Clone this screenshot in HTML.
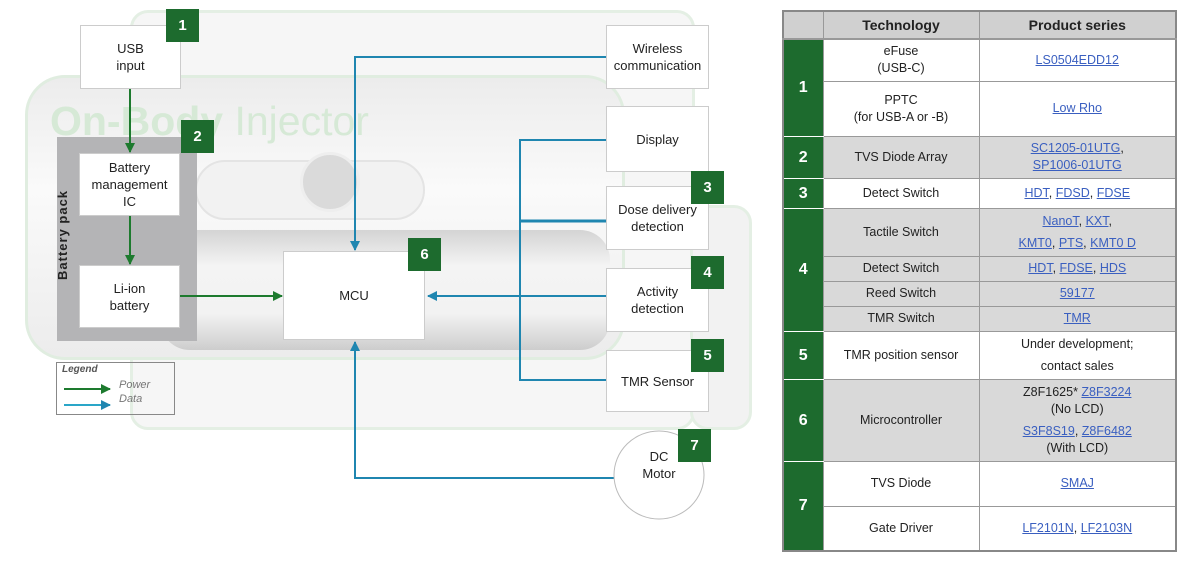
<!DOCTYPE html>
<html><head><meta charset="utf-8"><style>
*{margin:0;padding:0;box-sizing:border-box}
body{width:1200px;height:563px;background:#fff;position:relative;overflow:hidden;font-family:"Liberation Sans",sans-serif;color:#222}
.a{position:absolute}
.box{position:absolute;background:#fff;border:1px solid #ccc;display:flex;align-items:center;justify-content:center;text-align:center;font-size:13px;line-height:17px}
.bd{position:absolute;background:#1d6b2e;color:#fff;font-weight:bold;font-size:15px;display:flex;align-items:center;justify-content:center;width:33px;height:33px}
table{position:absolute;left:782px;top:10px;width:393px;border-collapse:collapse;border:2px solid #888;font-size:12.5px;table-layout:fixed}
td{border:1px solid #999;text-align:center;padding:0 3px;line-height:17px}
td.n{background:#1d6b2e;color:#fff;font-weight:bold;font-size:16px;border-color:#fff #999}
.g td{background:#d9d9d9}
.g td.n{background:#1d6b2e}
a{color:#3a5fc0;text-decoration:underline}
th{background:#d0d0d0;font-size:14px;height:28px;border:1px solid #999;border-bottom:2px solid #999}
</style></head><body>
<div class="a" style="left:130px;top:10px;width:565px;height:420px;border:3px solid #e4efe4;border-radius:18px;background:#f6f6f6"></div>
<div class="a" style="left:25px;top:75px;width:600px;height:285px;border:3px solid #e0ede0;border-radius:40px;background:linear-gradient(#ececec,#fafafa 40%,#ececec)"></div>
<div class="a" style="left:195px;top:160px;width:230px;height:60px;border:2px solid #e4e4e4;border-radius:30px;background:#f2f2f2"></div>
<div class="a" style="left:300px;top:152px;width:60px;height:60px;border-radius:50%;background:#dadada;border:3px solid #eee"></div>
<div class="a" style="left:160px;top:230px;width:450px;height:120px;border-radius:30px;background:linear-gradient(#d4d4d4,#f4f4f4 30%,#f2f2f2 70%,#cdcdcd)"></div>
<div class="a" style="left:690px;top:205px;width:62px;height:225px;border:3px solid #e4efe4;border-radius:18px;background:#f2f2f2"></div>
<div class="a" style="left:50px;top:98px;font-size:41px;color:#d6e9d6;white-space:nowrap"><b>On-Body</b> Injector</div>

<div class="a" style="left:57px;top:137px;width:140px;height:204px;background:#b4b4b6"></div>
<div class="a" style="left:55px;top:280px;transform:rotate(-90deg);transform-origin:0 0;font-size:13px;font-weight:bold;letter-spacing:1px;color:#222;white-space:nowrap">Battery pack</div>

<svg class="a" style="left:0;top:0" width="760" height="563">
<defs>
<marker id="gA" markerWidth="10" markerHeight="10" refX="9" refY="5" orient="auto" markerUnits="userSpaceOnUse"><path d="M0,0L10,5L0,10z" fill="#1d7a2e"/></marker>
<marker id="bA" markerWidth="10" markerHeight="10" refX="9" refY="5" orient="auto" markerUnits="userSpaceOnUse"><path d="M0,0L10,5L0,10z" fill="#1f86b0"/></marker>
</defs>
<g stroke="#1d7a2e" stroke-width="2" fill="none">
<line x1="130" y1="89" x2="130" y2="152" marker-end="url(#gA)"/>
<line x1="130" y1="216" x2="130" y2="264" marker-end="url(#gA)"/>
<line x1="180" y1="296" x2="282" y2="296" marker-end="url(#gA)"/>
<line x1="64" y1="389" x2="110" y2="389" marker-end="url(#gA)"/>
</g>
<g stroke="#1f86b0" stroke-width="2" fill="none">
<polyline points="608,57 355,57 355,250" marker-end="url(#bA)"/>
<polyline points="608,140 520,140 520,380 608,380"/>
<line x1="520" y1="221" x2="608" y2="221" stroke-width="3"/>
<line x1="608" y1="296" x2="428" y2="296" marker-end="url(#bA)"/>
<polyline points="614,478 355,478 355,342" marker-end="url(#bA)"/>
<line x1="64" y1="405" x2="110" y2="405" stroke="#2aa6c8" marker-end="url(#bA)"/>
</g>
<ellipse cx="659" cy="475" rx="45" ry="44" fill="#fff" stroke="#bbb"/>
</svg>

<div class="box" style="left:80px;top:25px;width:101px;height:64px">USB<br>input</div>
<div class="box" style="left:79px;top:153px;width:101px;height:63px">Battery<br>management<br>IC</div>
<div class="box" style="left:79px;top:265px;width:101px;height:63px">Li-ion<br>battery</div>
<div class="box" style="left:283px;top:251px;width:142px;height:89px">MCU</div>
<div class="box" style="left:606px;top:25px;width:103px;height:64px">Wireless<br>communication</div>
<div class="box" style="left:606px;top:106px;width:103px;height:66px">Display</div>
<div class="box" style="left:606px;top:186px;width:103px;height:64px">Dose delivery<br>detection</div>
<div class="box" style="left:606px;top:268px;width:103px;height:64px">Activity<br>detection</div>
<div class="box" style="left:606px;top:350px;width:103px;height:62px">TMR Sensor</div>
<div class="a" style="left:614px;top:448px;width:90px;text-align:center;font-size:13px;line-height:17px">DC<br>Motor</div>

<div class="bd" style="left:166px;top:9px">1</div>
<div class="bd" style="left:181px;top:120px">2</div>
<div class="bd" style="left:691px;top:171px">3</div>
<div class="bd" style="left:691px;top:256px">4</div>
<div class="bd" style="left:691px;top:339px">5</div>
<div class="bd" style="left:408px;top:238px">6</div>
<div class="bd" style="left:678px;top:429px">7</div>

<div class="a" style="left:56px;top:362px;width:119px;height:53px;border:1px solid #888"></div>
<div class="a" style="left:62px;top:364px;font-size:10px;font-style:italic;font-weight:bold;color:#555">Legend</div>
<div class="a" style="left:119px;top:378px;font-size:11px;font-style:italic;color:#777;line-height:14px">Power<br>Data</div>

<table>
<colgroup><col style="width:40px"><col style="width:156px"><col style="width:197px"></colgroup>
<tr><th style="background:#d0d0d0"></th><th>Technology</th><th>Product series</th></tr>
<tr style="height:42px"><td class="n" rowspan="2">1</td><td>eFuse<br>(USB-C)</td><td><a>LS0504EDD12</a></td></tr>
<tr style="height:55px"><td>PPTC<br>(for USB-A or -B)</td><td><a>Low Rho</a></td></tr>
<tr class="g" style="height:42px"><td class="n">2</td><td>TVS Diode Array</td><td><a>SC1205-01UTG</a>,<br><a>SP1006-01UTG</a></td></tr>
<tr style="height:30px"><td class="n">3</td><td>Detect Switch</td><td><a>HDT</a>, <a>FDSD</a>, <a>FDSE</a></td></tr>
<tr class="g" style="height:48px"><td class="n" rowspan="4">4</td><td>Tactile Switch</td><td style="line-height:22px"><a>NanoT</a>, <a>KXT</a>,<br><a>KMT0</a>, <a>PTS</a>, <a>KMT0 D</a></td></tr>
<tr class="g" style="height:25px"><td>Detect Switch</td><td><a>HDT</a>, <a>FDSE</a>, <a>HDS</a></td></tr>
<tr class="g" style="height:25px"><td>Reed Switch</td><td><a>59177</a></td></tr>
<tr class="g" style="height:25px"><td>TMR Switch</td><td><a>TMR</a></td></tr>
<tr style="height:48px"><td class="n">5</td><td>TMR position sensor</td><td style="line-height:22px">Under development;<br>contact sales</td></tr>
<tr class="g" style="height:82px"><td class="n">6</td><td>Microcontroller</td><td>Z8F1625* <a>Z8F3224</a><br>(No LCD)<br><div style="height:5px"></div><a>S3F8S19</a>, <a>Z8F6482</a><br>(With LCD)</td></tr>
<tr style="height:45px"><td class="n" rowspan="2">7</td><td>TVS Diode</td><td><a>SMAJ</a></td></tr>
<tr style="height:45px"><td>Gate Driver</td><td><a>LF2101N</a>, <a>LF2103N</a></td></tr>
</table>
</body></html>
